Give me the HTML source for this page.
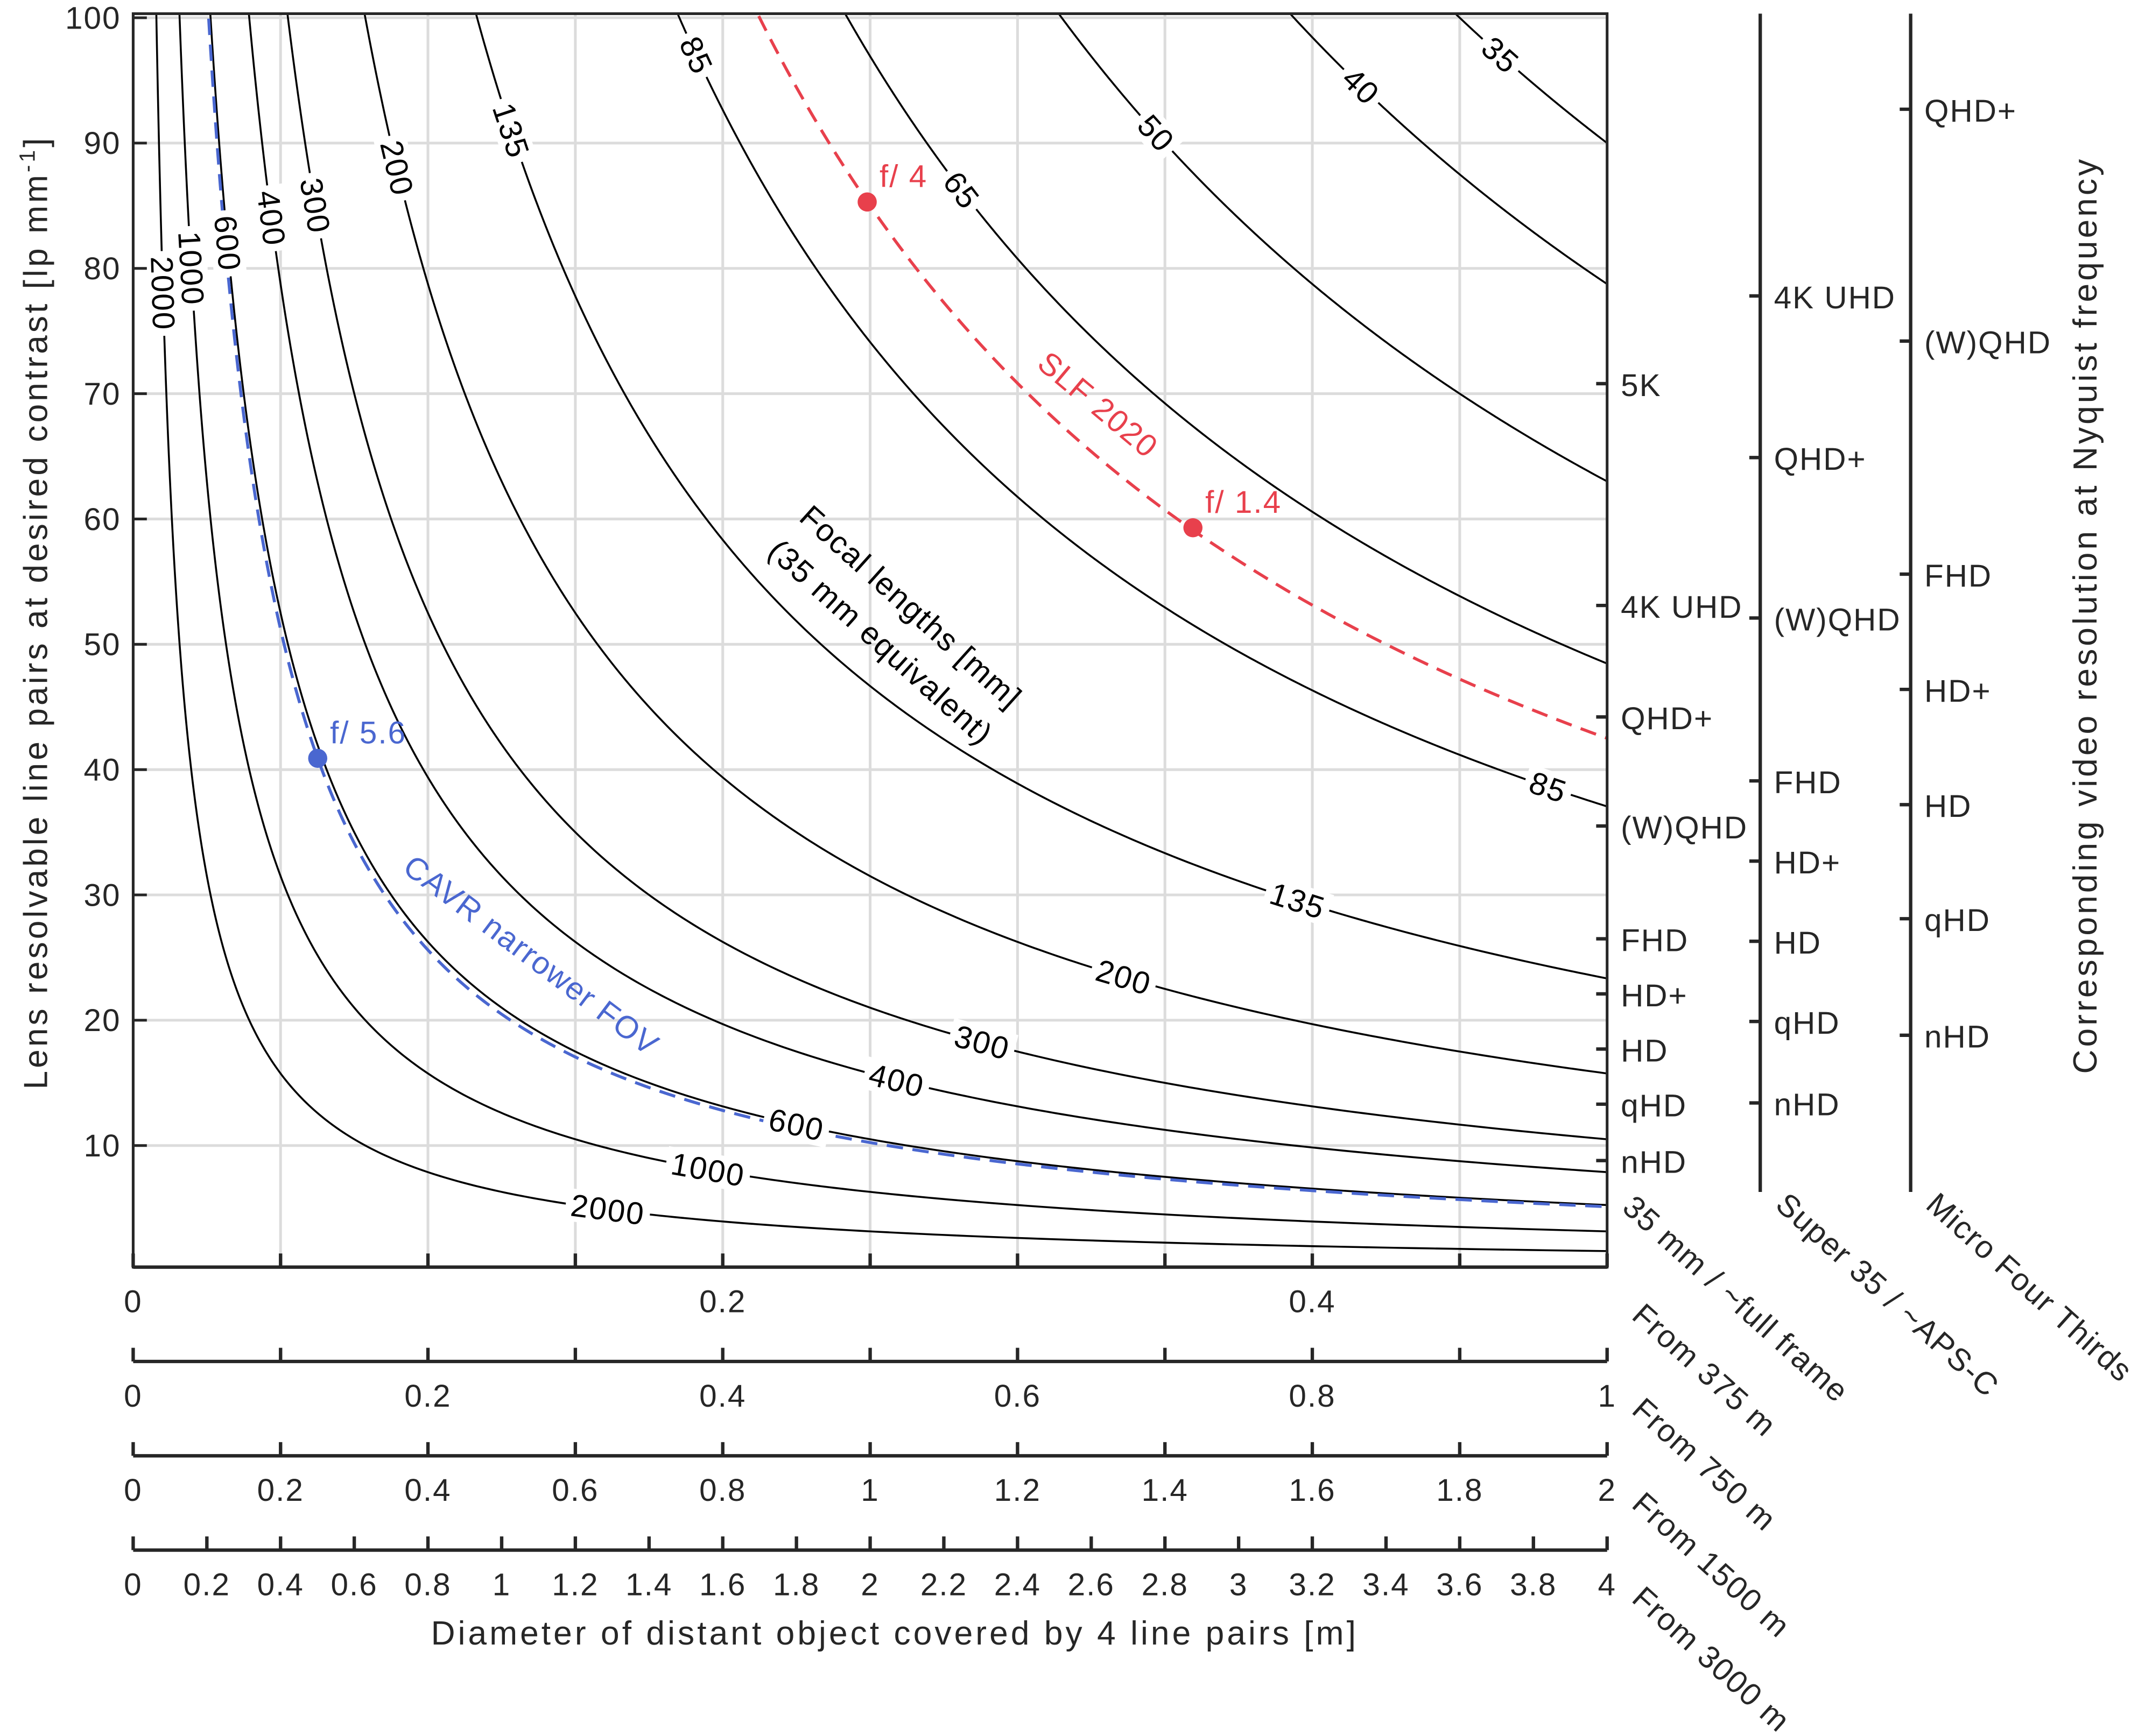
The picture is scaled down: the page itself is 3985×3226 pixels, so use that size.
<!DOCTYPE html>
<html><head><meta charset="utf-8"><style>
html,body{margin:0;padding:0;background:#fff}
svg{display:block}
text{font-family:"Liberation Sans","DejaVu Sans",sans-serif;font-size:23px;letter-spacing:0.8px;fill:#262626}
.ttl{font-size:24.5px;letter-spacing:2px}
</style></head><body>
<svg id="chart" width="3985" height="3226" viewBox="0 0 1568 1270" xmlns="http://www.w3.org/2000/svg">
<defs><clipPath id="pc"><rect x="97" y="10" width="1078" height="917"/></clipPath></defs>
<g id="grid"></g>
<g id="curves" clip-path="url(#pc)"></g>
<g id="labels"></g>
<g id="axes"></g>
<rect x="97" y="10" width="1078" height="917" fill="none" stroke="#262626" stroke-width="2"/>
<text class="ttl" transform="translate(34,448) rotate(-90)" text-anchor="middle">Lens resolvable line pairs at desired contrast [lp mm<tspan dy="-9" font-size="16">-1</tspan><tspan dy="9">]</tspan></text>
<text class="ttl" transform="translate(1533,450) rotate(-90)" text-anchor="middle">Corresponding video resolution at Nyquist frequency</text>
<text class="ttl" x="654" y="1203" text-anchor="middle">Diameter of distant object covered by 4 line pairs [m]</text>
<text transform="translate(583,380) rotate(42)" style="fill:#000">Focal lengths [mm]</text>
<text transform="translate(560,405) rotate(42)" style="fill:#000">(35 mm equivalent)</text>
<text transform="translate(757,268) rotate(40)" style="fill:#e8404c">SLF 2020</text>
<text transform="translate(293,637) rotate(37)" style="fill:#4a67d0">CAVR narrower FOV</text>
</svg>
<script>
const NS="http://www.w3.org/2000/svg";
const K=1575;
const focalLengths=[35,40,50,65,85,135,200,300,400,600,1000,2000];
const topLabelFocals=[35,40,50,65];
const topLabelD=[0.4638,0.4165,0.347,0.281];
const upperLabelFocals=[85,135,200,300,400,600,1000,2000];
const upperLabelR=[97,91,88,85,84,82,80,78];
const lowerLabelFocals=[85,135,200,300,400,600,1000,2000];
const lowerLabelD=[0.48,0.395,0.336,0.288,0.259,0.225,0.195,0.161];
const slfProduct=21.25, cavrProduct=2.56;
const slfPointsD=[0.249,0.3595], slfPointsR=[85.3,59.3], slfPointNames=["f/ 4","f/ 1.4"];
const cavrPointsD=[0.0626], cavrPointsR=[40.9], cavrPointNames=["f/ 5.6"];
const yTicks=[10,20,30,40,50,60,70,80,90,100];
const axisMax=[0.5,1,2,4];
const axisLabelStep=[0.2,0.2,0.2,0.2];
const axisTickStep=[0.05,0.1,0.2,0.2];
const axisNames=["From 375 m","From 750 m","From 1500 m","From 3000 m"];
const sensor1Names=["5K","4K UHD","QHD+","(W)QHD","FHD","HD+","HD","qHD","nHD"];
const sensor1R=[70.8,53.1,44.2,35.5,26.5,22.1,17.7,13.3,8.8];
const sensor2Names=["4K UHD","QHD+","(W)QHD","FHD","HD+","HD","qHD","nHD"];
const sensor2R=[77.8,64.9,52.1,39.1,32.7,26.3,19.9,13.4];
const sensor3Names=["QHD+","(W)QHD","FHD","HD+","HD","qHD","nHD"];
const sensor3R=[92.7,74.2,55.6,46.4,37.2,28.1,18.8];
const sensorTitles=["35 mm / ~full frame","Super 35 / ~APS-C","Micro Four Thirds"];

const X0=97,X1=1175;
const xs=D=>X0+D/0.5*(X1-X0);
const ys=R=>929.7-R*9.167;
function el(tag,attrs,parent,txt){const e=document.createElementNS(NS,tag);for(const k in attrs)e.setAttribute(k,attrs[k]);if(txt!==undefined)e.textContent=txt;parent.appendChild(e);return e;}
const grid=document.getElementById('grid'),curves=document.getElementById('curves'),labels=document.getElementById('labels'),axes=document.getElementById('axes');
for(let i=1;i<10;i++){const g=el('line',{x1:xs(i*0.05),x2:xs(i*0.05),y1:10,y2:927,stroke:'#dcdcdc','stroke-width':2},grid);

}
yTicks.forEach(v=>{const g=el('line',{x1:X0,x2:X1,y1:ys(v),y2:ys(v),stroke:'#dcdcdc','stroke-width':2},grid);

});
function hyper(c,stroke,dash,w,name){let pts=[];const d0=c/102,n=300;for(let i=0;i<=n;i++){const D=d0*Math.pow(0.5/d0,i/n);pts.push(xs(D).toFixed(2)+','+ys(c/D).toFixed(2));}
const p=el('polyline',{points:pts.join(' '),fill:'none',stroke:stroke,'stroke-width':w},curves);if(dash)p.setAttribute('stroke-dasharray',dash);

}
focalLengths.forEach(f=>hyper(K/f,'#000',null,1.4,'curve-'+f));
hyper(slfProduct,'#e8404c','12,7',2.2,'slf-2020-line');
hyper(cavrProduct,'#4a67d0','12,7',2.2,'cavr-line');
function curveLabel(f,D){const c=K/f,x=xs(D),y=ys(c/D);const h=1e-4;const dx=xs(D+h)-xs(D-h),dy=ys(c/(D+h))-ys(c/(D-h));const a=Math.atan2(dy,dx)*180/Math.PI;
const g=el('g',{transform:`translate(${x},${y}) rotate(${a})`},labels);


const w=String(f).length*13.5+8;el('rect',{x:-w/2,y:-12,width:w,height:24,fill:'#fff'},g);
el('text',{x:0,y:8,'text-anchor':'middle',style:'fill:#000'},g,String(f));}
topLabelFocals.forEach((f,i)=>curveLabel(f,topLabelD[i]));
upperLabelFocals.forEach((f,i)=>curveLabel(f,(K/f)/upperLabelR[i]));
lowerLabelFocals.forEach((f,i)=>curveLabel(f,lowerLabelD[i]));
function pts(Ds,Rs,names,col,nm){Ds.forEach((D,i)=>{const c=el('circle',{cx:xs(D),cy:ys(Rs[i]),r:7,fill:col},labels);


const t=el('text',{x:xs(D)+9,y:ys(Rs[i])-11,style:'fill:'+col},labels,names[i]);

});}
pts(slfPointsD,slfPointsR,slfPointNames,'#e8404c','slf');
pts(cavrPointsD,cavrPointsR,cavrPointNames,'#4a67d0','cavr');
yTicks.forEach(v=>{const t=el('text',{x:88,y:ys(v)+8,'text-anchor':'end'},axes,String(v));


el('line',{x1:X0,x2:X0+10,y1:ys(v),y2:ys(v),stroke:'#262626','stroke-width':2},axes);});
const fmt=v=>String(Math.round(v*100)/100);
axisMax.forEach((m,i)=>{const ly=927+i*69;
const l=el('line',{x1:X0,x2:X1,y1:ly,y2:ly,stroke:'#262626','stroke-width':2.5},axes);


const ax=v=>X0+v/m*(X1-X0);
const nt=Math.floor(m/axisTickStep[i]+1e-6);for(let k=0;k<=nt;k++){const v=k*axisTickStep[i];el('line',{x1:ax(v),x2:ax(v),y1:ly,y2:ly-10,stroke:'#262626','stroke-width':2.5},axes);}
const nl=Math.floor(m/axisLabelStep[i]+1e-6);for(let k=0;k<=nl;k++){const v=k*axisLabelStep[i];const t=el('text',{x:ax(v),y:ly+33,'text-anchor':'middle'},axes,fmt(v));

}
const t=el('text',{transform:`translate(1192,${ly+37}) rotate(42)`},axes,axisNames[i]);

});
function sensorAxis(x,names,Rs,top,bottom,title,idx){if(idx>0){const l=el('line',{x1:x,x2:x,y1:top,y2:bottom,stroke:'#262626','stroke-width':2.5},axes);

}
names.forEach((n,i)=>{const y=ys(Rs[i]);el('line',{x1:x-8,x2:x,y1:y,y2:y,stroke:'#262626','stroke-width':2.5},axes);
const t=el('text',{x:x+10,y:y+9},axes,n);

});
const t=el('text',{transform:`translate(${x+10},${bottom+11}) rotate(42)`},axes,title);

}
sensorAxis(1175,sensor1Names,sensor1R,10,874,sensorTitles[0],0);
sensorAxis(1287,sensor2Names,sensor2R,10,872,sensorTitles[1],1);
sensorAxis(1397,sensor3Names,sensor3R,10,872,sensorTitles[2],2);
</script>
</body></html>
